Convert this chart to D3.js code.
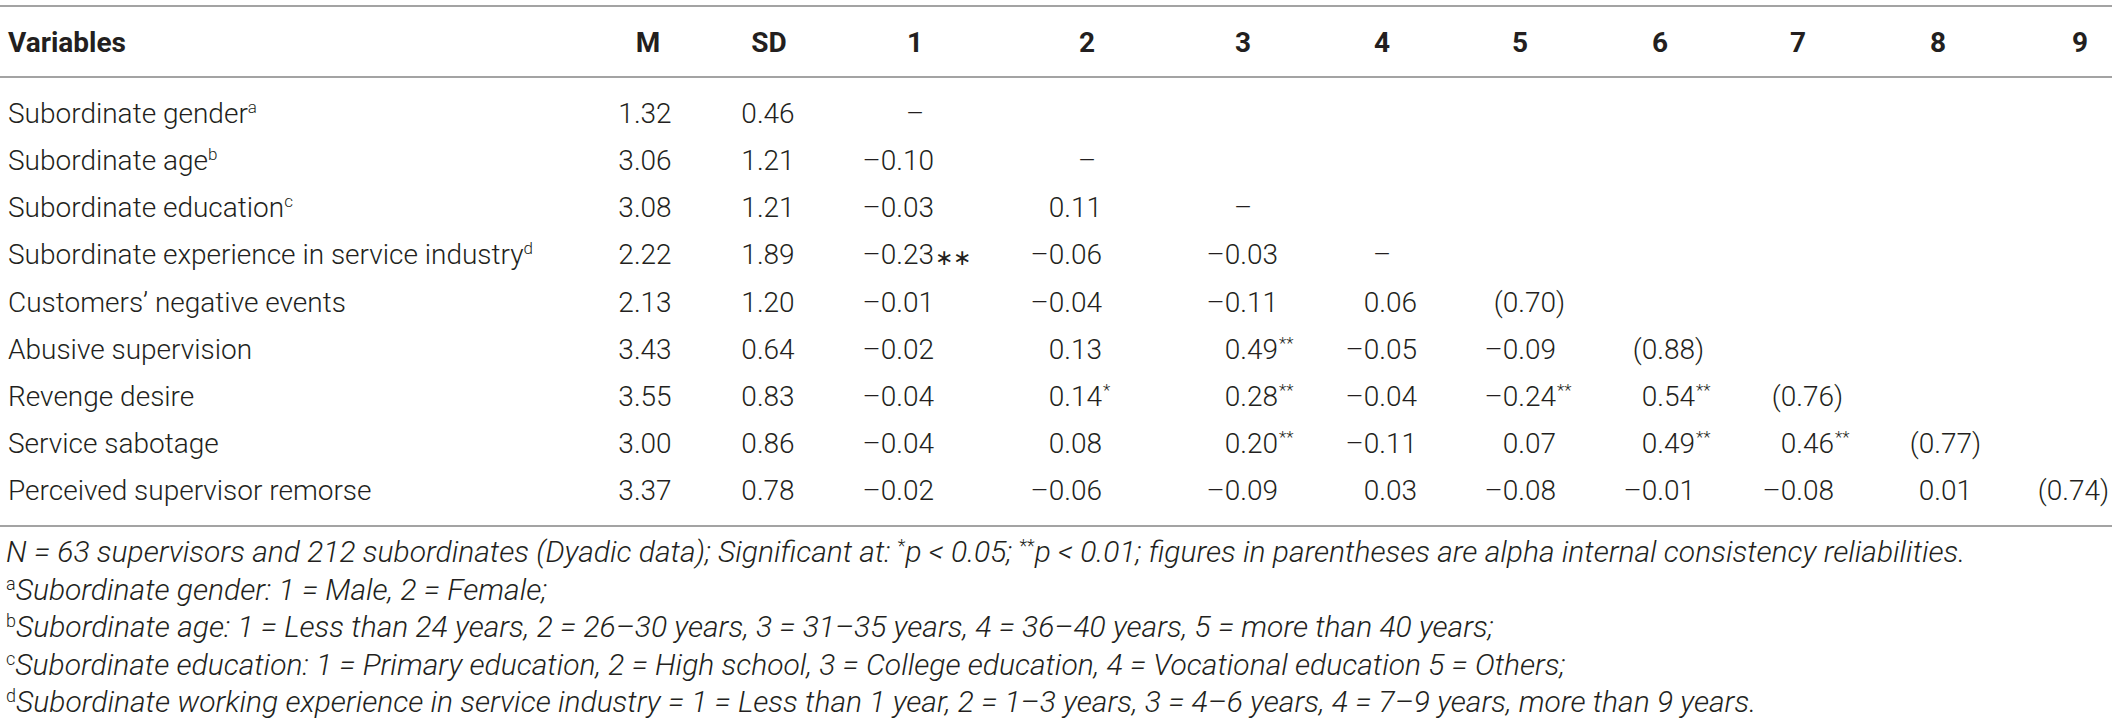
<!DOCTYPE html>
<html>
<head>
<meta charset="utf-8">
<script src="https://cdn.jsdelivr.net/npm/d3@7"></script>
<style>
  html, body { margin: 0; padding: 0; background: #fff; }
  text { font-family: Roboto, "Liberation Sans", sans-serif; fill: #231f20; }
</style>
</head>
<body>
<div id="table_figure"></div>
<script>
// table data
var variables = [
    "Subordinate gender",
    "Subordinate age",
    "Subordinate education",
    "Subordinate experience in service industry",
    "Customers\u2019 negative events",
    "Abusive supervision",
    "Revenge desire",
    "Service sabotage",
    "Perceived supervisor remorse"
];
var labelNotes = ["a", "b", "c", "d", "", "", "", "", ""];
var means = [1.32, 3.06, 3.08, 2.22, 2.13, 3.43, 3.55, 3.00, 3.37];
var sds = [0.46, 1.21, 1.21, 1.89, 1.20, 0.64, 0.83, 0.86, 0.78];

// lower triangle (row i, columns 1..i)
var corr = [
    [],
    [-0.10],
    [-0.03, 0.11],
    [-0.23, -0.06, -0.03],
    [-0.01, -0.04, -0.11, 0.06],
    [-0.02, 0.13, 0.49, -0.05, -0.09],
    [-0.04, 0.14, 0.28, -0.04, -0.24, 0.54],
    [-0.04, 0.08, 0.20, -0.11, 0.07, 0.49, 0.46],
    [-0.02, -0.06, -0.09, 0.03, -0.08, -0.01, -0.08, 0.01]
];
// "**" = superscript, "\u2217\u2217" = inline asterisks as printed
var stars = [
    [],
    [""],
    ["", ""],
    ["\u2217\u2217", "", ""],
    ["", "", "", ""],
    ["", "", "**", "", ""],
    ["", "*", "**", "", "**", "**"],
    ["", "", "**", "", "", "**", "**"],
    ["", "", "", "", "", "", "", ""]
];
// diagonal: alpha reliabilities, null printed as a dash
var alphas = [null, null, null, null, 0.70, 0.88, 0.76, 0.77, 0.74];

var headers = ["M", "SD", "1", "2", "3", "4", "5", "6", "7", "8", "9"];
var corrCols = headers.slice(2);

var footnotes = [
    {mark: "", parts: [
        {t: "N = 63 supervisors and 212 subordinates (Dyadic data); Significant at: "},
        {t: "*", sup: true}, {t: "p < 0.05; "},
        {t: "**", sup: true},
        {t: "p < 0.01; figures in parentheses are alpha internal consistency reliabilities."}]},
    {mark: "a", parts: [{t: "Subordinate gender: 1 = Male, 2 = Female;"}]},
    {mark: "b", parts: [{t: "Subordinate age: 1 = Less than 24 years, 2 = 26\u201330 years, 3 = 31\u201335 years, 4 = 36\u201340 years, 5 = more than 40 years;"}]},
    {mark: "c", parts: [{t: "Subordinate education: 1 = Primary education, 2 = High school, 3 = College education, 4 = Vocational education 5 = Others;"}]},
    {mark: "d", parts: [{t: "Subordinate working experience in service industry = 1 = Less than 1 year, 2 = 1\u20133 years, 3 = 4\u20136 years, 4 = 7\u20139 years, more than 9 years."}]}
];

// layout
var W = 2118, H = 724;
var FS = 28, FOOT_FS = 30;
var svg = d3.select("#table_figure")
    .append("svg")
    .attr("width", W)
    .attr("height", H);

var colX = d3.scaleOrdinal().domain(headers)
    .range([648, 769, 915, 1087, 1243, 1382, 1520, 1660, 1798, 1938, 2080]);
// right edge of the number part (decimal alignment)
var numEdge = d3.scaleOrdinal().domain(corrCols)
    .range([934, 1102, 1278, 1417, 1556, 1695, 1834, 1972, 2100]);
var rowY = d3.scalePoint().domain(variables).range([113, 490]);
var footY = d3.scalePoint().domain(d3.range(footnotes.length)).range([552, 702]);

var fmt = function(v) { return (v < 0 ? "\u2013" : "") + Math.abs(v).toFixed(2); };
var BASE = 10; // centre -> baseline

// rules
[6, 77, 526].forEach(function(y) {
    svg.append("line")
        .attr("x1", 0).attr("x2", 2112)
        .attr("y1", y).attr("y2", y)
        .style("stroke", "#a3a3a3")
        .style("stroke-width", 2);
});

// header
var head = svg.append("g").style("font-weight", 700).style("font-size", FS + "px");
head.append("text").attr("x", 8).attr("y", 42 + BASE).text("Variables");
head.selectAll(".h")
    .data(headers)
    .enter().append("text")
    .attr("class", "h")
    .attr("x", function(d) { return colX(d); })
    .attr("y", 42 + BASE)
    .attr("text-anchor", "middle")
    .text(function(d) { return d; });

// body
var body = svg.append("g").style("font-weight", 300).style("font-size", FS + "px");

var lab = body.selectAll(".lab")
    .data(variables)
    .enter().append("text")
    .attr("class", "lab")
    .attr("x", 8)
    .attr("y", function(d) { return rowY(d) + BASE; });
lab.append("tspan").text(function(d) { return d; });
lab.append("tspan")
    .attr("dy", -10)
    .style("font-size", "17px")
    .text(function(d, i) { return labelNotes[i]; });

body.selectAll(".m")
    .data(means)
    .enter().append("text")
    .attr("x", colX("M") - 3)
    .attr("y", function(d, i) { return rowY(variables[i]) + BASE; })
    .attr("text-anchor", "middle")
    .text(function(d) { return d.toFixed(2); });

body.selectAll(".sd")
    .data(sds)
    .enter().append("text")
    .attr("x", colX("SD") - 1)
    .attr("y", function(d, i) { return rowY(variables[i]) + BASE; })
    .attr("text-anchor", "middle")
    .text(function(d) { return d.toFixed(2); });

// correlation cells
var cells = [];
variables.forEach(function(v, i) {
    corr[i].forEach(function(r, j) {
        cells.push({row: v, col: corrCols[j], num: fmt(r), tail: stars[i][j]});
    });
    if (alphas[i] === null) cells.push({row: v, col: corrCols[i], dash: true});
    else cells.push({row: v, col: corrCols[i], num: "(" + alphas[i].toFixed(2), tail: ")", paren: true});
});

body.selectAll(".dash")
    .data(cells.filter(function(c) { return c.dash; }))
    .enter().append("text")
    .attr("x", function(d) { return colX(d.col); })
    .attr("y", function(d) { return rowY(d.row) + BASE; })
    .attr("text-anchor", "middle")
    .text("\u2013");

var numCells = cells.filter(function(c) { return !c.dash; });
body.selectAll(".num")
    .data(numCells)
    .enter().append("text")
    .attr("x", function(d) { return numEdge(d.col); })
    .attr("y", function(d) { return rowY(d.row) + BASE; })
    .attr("text-anchor", "end")
    .text(function(d) { return d.num; });

body.selectAll(".tail")
    .data(numCells.filter(function(c) { return c.tail; }))
    .enter().append("text")
    .attr("x", function(d) { return numEdge(d.col) + (d.paren ? 0 : 1); })
    .attr("y", function(d) {
        var y = rowY(d.row) + BASE;
        if (d.paren) return y;
        return d.tail.charAt(0) === "*" ? y - 10 : y + 1;
    })
    .style("font-size", function(d) {
        if (d.paren) return FS + "px";
        return d.tail.charAt(0) === "*" ? "17px" : "22px";
    })
    .text(function(d) { return d.tail; });

// footnotes
var foot = svg.append("g").style("font-size", FOOT_FS + "px").style("font-weight", 300);
footnotes.forEach(function(f, k) {
    var t = foot.append("text")
        .attr("x", 6)
        .attr("y", footY(k) + BASE);
    if (f.mark) {
        t.append("tspan")
            .attr("dy", -10)
            .style("font-size", "18px")
            .text(f.mark);
    }
    var lift = f.mark ? 10 : 0;
    f.parts.forEach(function(p) {
        var s = t.append("tspan").style("font-style", "italic").text(p.t);
        if (p.sup) {
            s.attr("dy", -10 + lift).style("font-size", "18px").style("font-style", "normal");
            lift = 10;
        } else {
            s.attr("dy", lift);
            lift = 0;
        }
    });
});
</script>
</body>
</html>
